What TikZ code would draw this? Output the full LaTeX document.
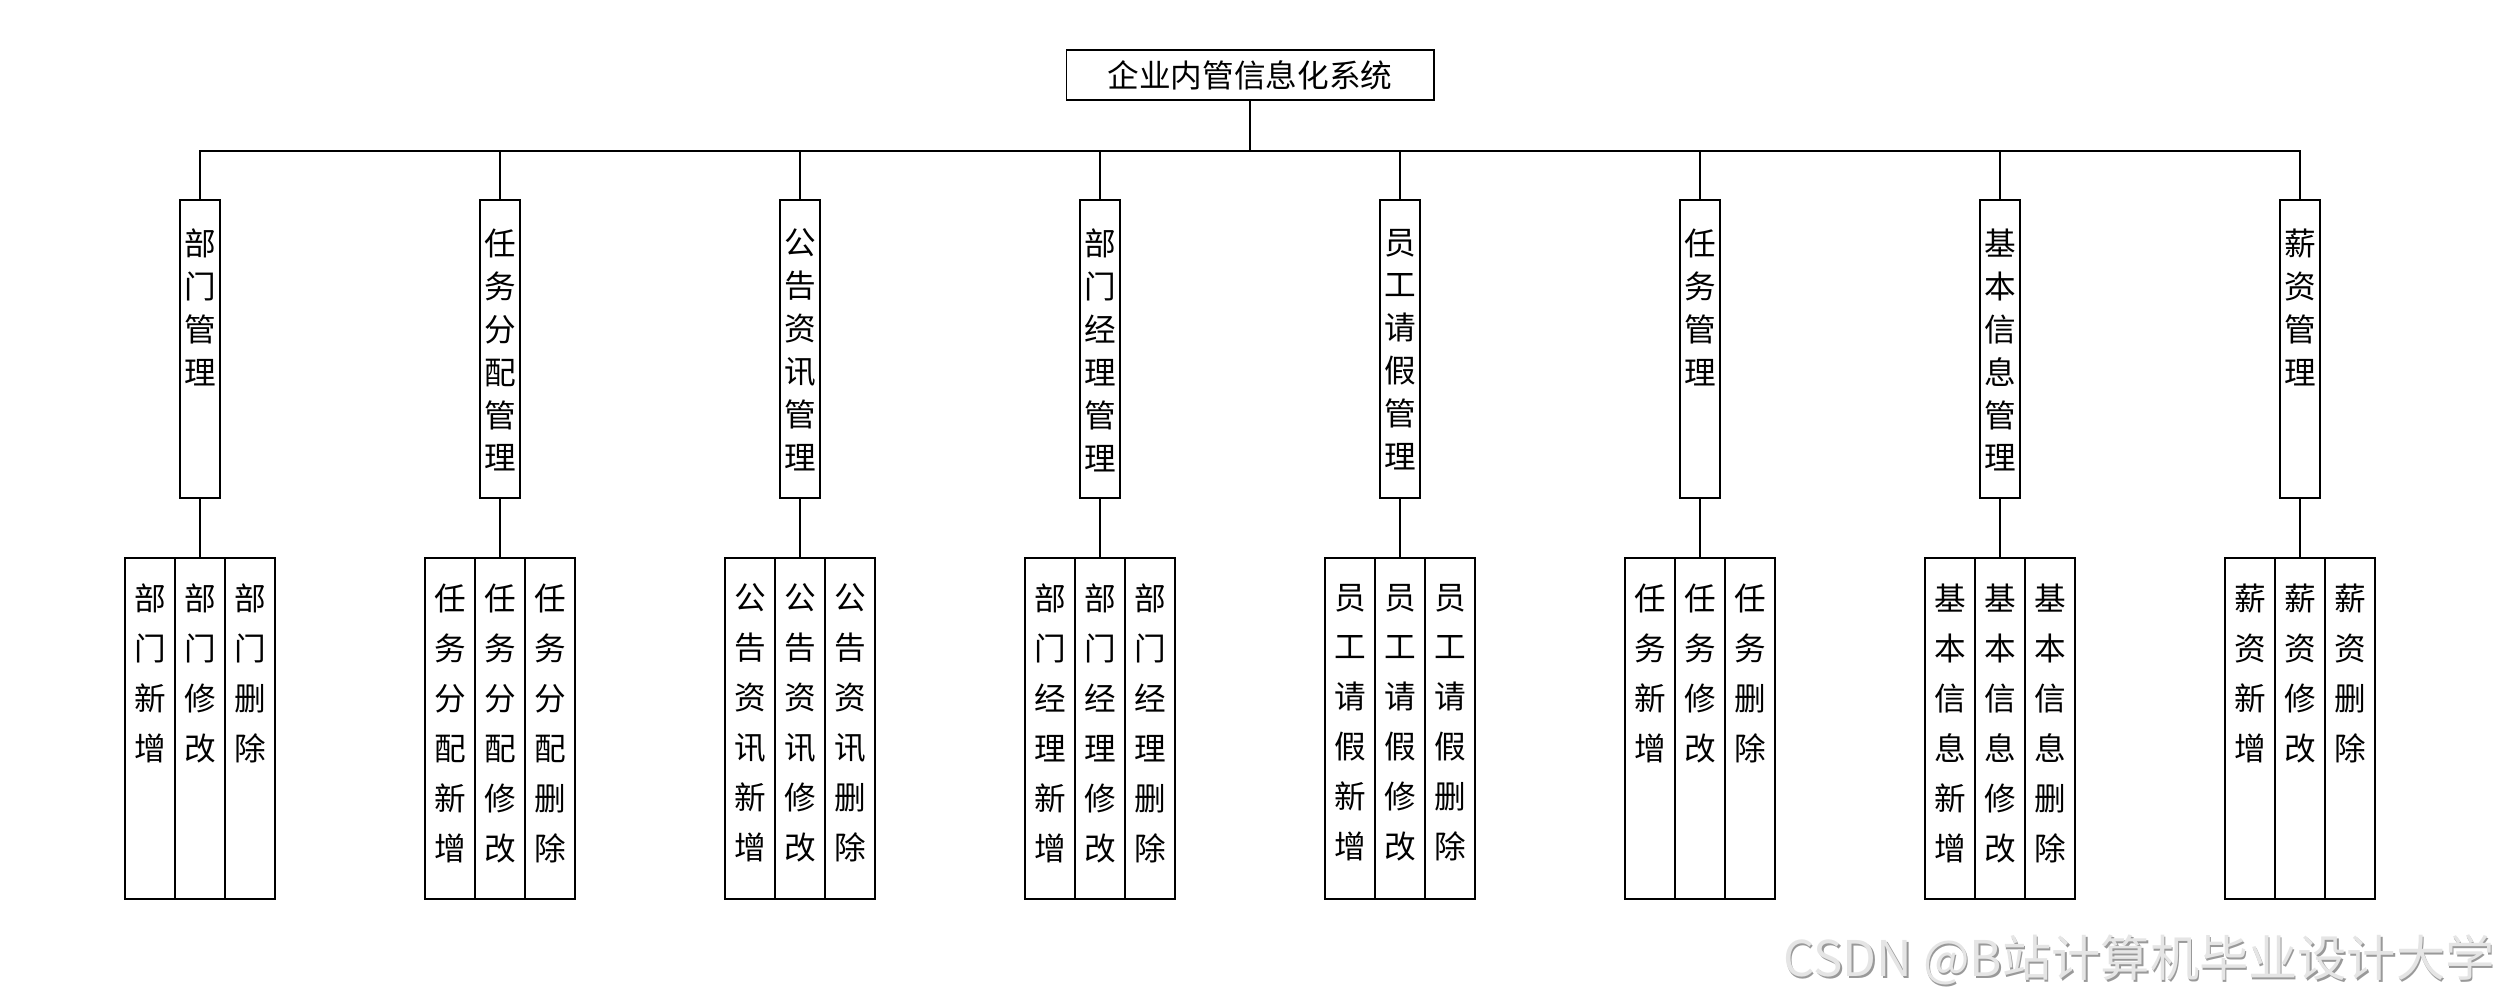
\documentclass[tikz,border=0pt]{standalone}
\usepackage{fontspec}
\newfontfamily\cjk{Noto Sans CJK SC}
\begin{document}
\begin{tikzpicture}[x=0.01cm,y=-0.01cm,line width=0.5pt,
  topbox/.style={draw,minimum width=3.67cm,minimum height=0.5cm,inner sep=0,font=\cjk\fontsize{9pt}{11pt}\selectfont},
  lvone/.style={draw,minimum width=0.4cm,minimum height=2.98cm,inner sep=0},
  lvtwo/.style={draw,minimum width=0.5cm,minimum height=3.41cm,inner sep=0},
  txone/.style={anchor=north,inner sep=0,align=center,font=\cjk\fontsize{9pt}{12.2pt}\selectfont},
  txtwo/.style={anchor=north,inner sep=0,align=center,font=\cjk\fontsize{9pt}{14.2pt}\selectfont},
  link/.style={draw}]
\useasboundingbox (0,0) rectangle (2500,1000);
\node[topbox] (root) at (1250,75) {企业内管信息化系统};
\foreach \i/\a/\p in {
  1/{部\\门\\管\\理}/{部\\门},
  2/{任\\务\\分\\配\\管\\理}/{任\\务\\分\\配},
  3/{公\\告\\资\\讯\\管\\理}/{公\\告\\资\\讯},
  4/{部\\门\\经\\理\\管\\理}/{部\\门\\经\\理},
  5/{员\\工\\请\\假\\管\\理}/{员\\工\\请\\假},
  6/{任\\务\\管\\理}/{任\\务},
  7/{基\\本\\信\\息\\管\\理}/{基\\本\\信\\息},
  8/{薪\\资\\管\\理}/{薪\\资}}{
  \pgfmathsetmacro{\cx}{200+300*(\i-1)}
  \node[lvone] (L\i) at (\cx,349) {};
  \node[txone] (TL\i) at (\cx,228) {\a};
  \node[lvtwo] (A\i) at (\cx-50,728.5) {};
  \node[lvtwo] (B\i) at (\cx,728.5) {};
  \node[lvtwo] (C\i) at (\cx+50,728.5) {};
  \node[txtwo] (TA\i) at (\cx-50,583) {\p\\新\\增};
  \node[txtwo] (TB\i) at (\cx,583) {\p\\修\\改};
  \node[txtwo] (TC\i) at (\cx+50,583) {\p\\删\\除};
  \draw[link] (root.south) -- ++(0,50) -| (L\i.north);
  \draw[link] (L\i.south) -- (B\i.north);
}
\node[anchor=east,inner sep=0,text=black!40,font=\cjk\fontsize{14pt}{16pt}\selectfont] (wmshadow) at (2497,961.5) {CSDN @B站计算机毕业设计大学};
\node[anchor=east,inner sep=0,text=black!10,font=\cjk\fontsize{14pt}{16pt}\selectfont] (wm) at (2495.5,960) {CSDN @B站计算机毕业设计大学};
\end{tikzpicture}
\end{document}
